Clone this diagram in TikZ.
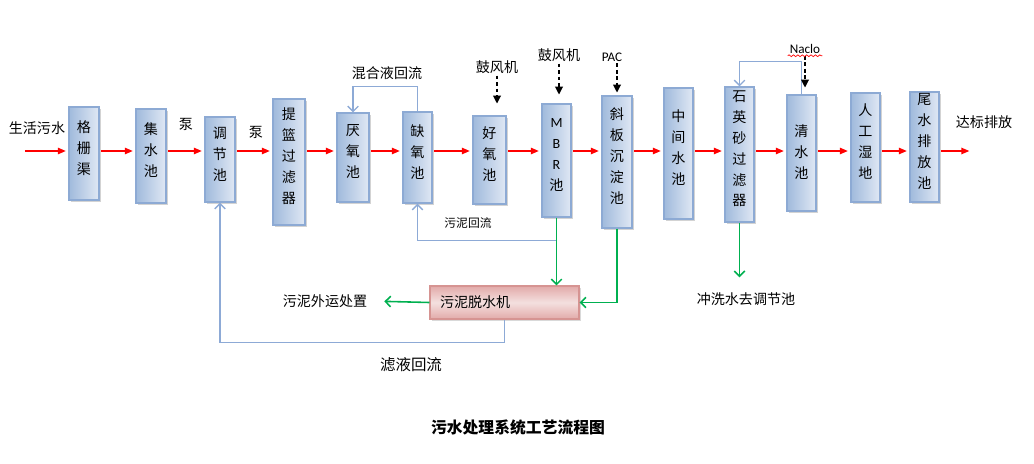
\documentclass[tikz,border=0pt]{standalone}
\usepackage{fontspec}
\setmainfont{Noto Sans CJK SC}
\newfontfamily\lat{Carlito}
\usetikzlibrary{arrows.meta,shadows,decorations.pathmorphing}

\definecolor{tankline}{RGB}{141,170,212}
\definecolor{tankdark}{RGB}{160,186,220}
\definecolor{tanklight}{RGB}{224,232,244}
\definecolor{pressline}{RGB}{214,148,146}
\definecolor{pressdark}{RGB}{226,170,169}
\definecolor{presslight}{RGB}{244,224,223}
\definecolor{flowred}{RGB}{255,0,0}
\definecolor{sludgegreen}{RGB}{0,176,80}
\definecolor{backblue}{RGB}{141,170,214}

\tikzset{
  tank/.style={draw=tankline, line width=0.6pt, left color=tankdark, right color=tanklight,
    minimum width=0.6cm, inner sep=0pt, align=center, text depth=7pt,
    font=\fontsize{8pt}{11.9pt}\selectfont,
    drop shadow={shadow xshift=1pt, shadow yshift=-1pt, opacity=0.35}},
  press/.style={draw=pressline, line width=0.6pt, top color=pressdark, bottom color=pressdark,
    middle color=presslight, minimum width=2.98cm, minimum height=0.66cm,
    text width=2.58cm, align=left, inner sep=0pt,
    font=\fontsize{8pt}{10pt}\selectfont,
    drop shadow={shadow xshift=1pt, shadow yshift=-1pt, opacity=0.3}},
  lbl/.style={inner sep=1pt, font=\fontsize{8pt}{10pt}\selectfont},
  small/.style={inner sep=1pt, font=\fontsize{6.7pt}{8pt}\selectfont},
  flow/.style={flowred, line width=0.8pt, -{Triangle[length=4.5pt,width=3.6pt]},
    shorten <=1pt, shorten >=1.5pt},
  back/.style={backblue, line width=0.8pt, -{Straight Barb[length=3pt,width=6pt]}},
  sludge/.style={sludgegreen, line width=0.9pt, -{Straight Barb[length=3pt,width=6pt]}},
  air/.style={black, line width=0.6pt, dash pattern=on 2.2pt off 1.5pt,
    -{Triangle[length=4.5pt,width=4.5pt]}}
}

\begin{document}
\begin{tikzpicture}[x=0.02cm, y=-0.02cm]
    \useasboundingbox (0,0) rectangle (1034,463);

    \node[tank, minimum height=1.86cm] (gs) at (84,153.5) {格\\栅\\渠};
    \node[tank, minimum height=1.88cm] (js) at (151,156) {集\\水\\池};
    \node[tank, minimum height=1.7cm] (tj) at (220,159.5) {调\\节\\池};
    \node[tank, minimum width=0.64cm, minimum height=2.52cm] (tl) at (289,162) {提\\篮\\过\\滤\\器};
    \node[tank, minimum width=0.64cm, minimum height=1.78cm] (yy) at (353,157.5) {厌\\氧\\池};
    \node[tank, minimum width=0.58cm, minimum height=1.82cm] (qy) at (417.5,157.5) {缺\\氧\\池};
    \node[tank, minimum width=0.66cm, minimum height=1.76cm] (hy) at (489.5,160) {好\\氧\\池};
    \node[tank, minimum width=0.58cm, minimum height=2.26cm] (mbr) at (556.5,160.5) {{\lat M}\\{\lat B}\\{\lat R}\\池};
    \node[tank, minimum height=2.64cm] (xb) at (617,162) {斜\\板\\沉\\淀\\池};
    \node[tank, minimum width=0.58cm, minimum height=2.62cm] (zj) at (678.5,153.5) {中\\间\\水\\池};
    \node[tank, minimum width=0.58cm, minimum height=2.7cm] (sy) at (739.5,154.5) {石\\英\\砂\\过\\滤\\器};
    \node[tank, minimum width=0.58cm, minimum height=2.32cm, text depth=2pt] (qs) at (801.5,153) {清\\水\\池};
    \node[tank, minimum width=0.58cm, minimum height=2.18cm] (rg) at (865.5,147.5) {人\\工\\湿\\地};
    \node[tank, minimum width=0.58cm, minimum height=2.2cm] (ws) at (924.5,147) {尾\\水\\排\\放\\池};
    \node[press] (tsj) at (504.5,302.5) {污泥脱水机};

    \node[lbl] (sh) at (37,128) {生活污水};
    \node[lbl] (b1) at (186,124) {泵};
    \node[lbl] (b2) at (256,132) {泵};
    \node[lbl] (hh) at (387,73) {混合液回流};
    \node[lbl] (gf1) at (497,67) {鼓风机};
    \node[lbl] (gf2) at (559,55) {鼓风机};
    \node[inner sep=1pt, font=\lat\fontsize{7.5pt}{9pt}\selectfont] (pac) at (612,57) {PAC};
    \node[inner sep=1pt, font=\lat\fontsize{7.5pt}{9pt}\selectfont] (naclo) at (805,49) {Naclo};
    \node[small] (wh) at (468,223) {污泥回流};
    \node[lbl] (wy) at (325,301) {污泥外运处置};
    \node[inner sep=1pt, font=\fontsize{8.8pt}{10pt}\selectfont] (ly) at (411,365) {滤液回流};
    \node[lbl] (cx) at (746,299) {冲洗水去调节池};
    \node[lbl] (db) at (984,122) {达标排放};
    \node[font=\fontsize{9pt}{11pt}\selectfont\bfseries] (title) at (518,427) {污水处理系统工艺流程图};

    \coordinate (lv) at (0,151);
    \coordinate (src) at (23,151);
    \coordinate (dst) at (972,151);
    \draw[flow] (src) to (gs.west |- lv);
    \foreach \a/\b in {gs/js,js/tj,tj/tl,tl/yy,yy/qy,qy/hy,hy/mbr,mbr/xb,xb/zj,zj/sy,sy/qs,qs/rg,rg/ws} {
      \draw[flow] (\a.east |- lv) to (\b.west |- lv);
    }
    \draw[flow] (ws.east |- lv) to (dst);

    \draw[back] (qy.north) -- ++(0,-25) -| (yy.north);
    \draw[back] (qs.north) -- ++(0,-33) -| (sy.north);
    \draw[back] (mbr.south) ++(0,23) -| (qy.south);
    \draw[back] (tsj.south) -- ++(0,23) -| (tj.south);

    \draw[sludge] (mbr.south) to (mbr.south |- tsj.north);
    \draw[sludge] (xb.south) |- (tsj.east);
    \draw[sludge, shorten >=0.3cm] (tsj.west) to (wy.east);
    \draw[sludge, shorten >=0.26cm] (sy.south) to (sy.south |- cx.north);

    \draw[air, shorten >=0.24cm] (gf1.south) to (gf1.south |- hy.north);
    \draw[air, shorten >=0.18cm] (gf2.south) to (gf2.south |- mbr.north);
    \draw[air, shorten >=0.06cm] (pac.south -| xb.north) to (xb.north);
    \draw[air, shorten >=0.14cm] (naclo.south) to (naclo.south |- qs.north);
    \draw[red, line width=0.4pt, decorate, decoration={snake, amplitude=0.5pt, segment length=2.5pt}]
      (naclo.south west) -- (naclo.south east);
  \end{tikzpicture}
\end{document}
